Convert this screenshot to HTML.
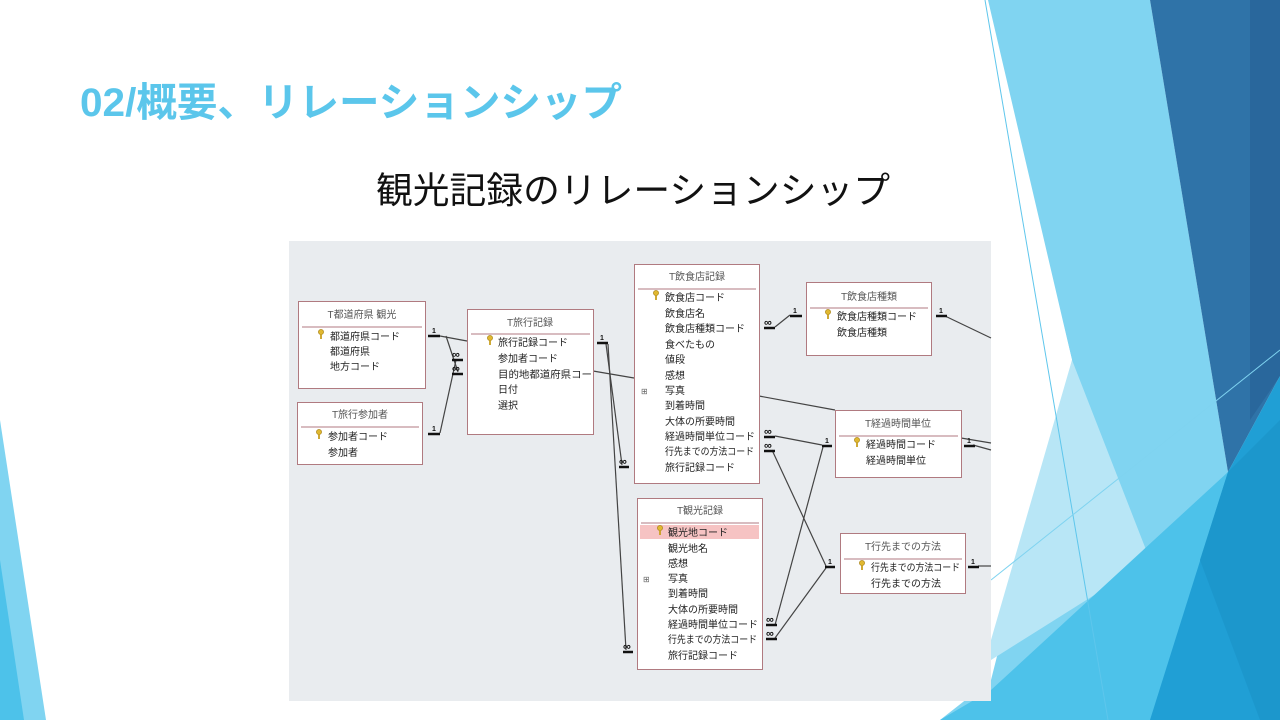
<!DOCTYPE html>
<html><head><meta charset="utf-8"><style>
html,body{margin:0;padding:0;width:1280px;height:720px;overflow:hidden;background:#fff}
svg{display:block}
.t{font-family:"Liberation Sans","Noto Sans CJK JP",sans-serif}
</style></head><body>
<svg width="1280" height="720" viewBox="0 0 1280 720" xmlns="http://www.w3.org/2000/svg" class="t">
<defs>
<g id="k"><circle cx="0" cy="0" r="2.6" fill="#e0b830" stroke="#a07a10" stroke-width="0.6"/><rect x="-0.9" y="2" width="1.8" height="5" fill="#c9a020"/></g>
</defs>
<!-- background shapes -->
<polygon points="988,0 1150,0 1228,472 1280,376 1280,720 940,720 991,680 1072,360" fill="#80d4f1"/>
<polygon points="985,0 1072,360 991,640 991,200" fill="#ffffff"/>
<polygon points="1072,360 1150,560 991,660 991,640" fill="#b8e6f6"/>
<polygon points="991,690 1228,472 1280,440 1280,720 940,720" fill="#4dc2ea"/>
<polygon points="1150,0 1280,0 1280,376 1228,472" fill="#2f73a8"/>
<polygon points="1250,0 1280,0 1280,376 1250,420" fill="#29679c"/>
<polygon points="1280,376 1280,720 1150,720 1228,472" fill="#209fd5"/>
<polygon points="1200,560 1228,472 1280,420 1280,720 1260,720" fill="#1c97cc"/>
<line x1="985" y1="0" x2="1108" y2="720" stroke="#5ec6ec" stroke-width="1"/>
<line x1="991" y1="580" x2="1280" y2="350" stroke="#7fd3f0" stroke-width="1"/>
<polygon points="0,420 46,720 0,720" fill="#80d4f1"/>
<polygon points="0,560 24,720 0,720" fill="#4dc2ea"/>

<!-- titles -->
<text x="80" y="116" font-size="40" font-weight="bold" fill="#5bc6eb" textLength="542" lengthAdjust="spacingAndGlyphs">02/概要、リレーションシップ</text>
<text x="376" y="203" font-size="36.5" fill="#111" textLength="514" lengthAdjust="spacingAndGlyphs">観光記録のリレーションシップ</text>

<!-- diagram area -->
<rect x="289" y="241" width="702" height="460" fill="#e9ecef"/>

<g stroke="#444" stroke-width="1.2" fill="none">
<line x1="440" y1="336" x2="467" y2="341"/>
<line x1="446" y1="336" x2="458" y2="372"/>
<line x1="440" y1="433" x2="456" y2="360"/>
<line x1="593" y1="371" x2="634" y2="378"/>
<line x1="606" y1="344" x2="622" y2="465"/>
<line x1="608" y1="344" x2="626" y2="650"/>
<line x1="775" y1="327" x2="790" y2="315"/>
<line x1="945" y1="316" x2="991" y2="338"/>
<line x1="759" y1="396" x2="835" y2="410"/>
<line x1="775" y1="436" x2="822" y2="445"/>
<line x1="772" y1="450" x2="826" y2="566"/>
<line x1="775" y1="625" x2="823" y2="447"/>
<line x1="775" y1="638" x2="826" y2="568"/>
<line x1="961" y1="438" x2="991" y2="443"/>
<line x1="973" y1="445" x2="991" y2="450"/>
<line x1="978" y1="566" x2="991" y2="566"/>
</g>
<g stroke="#111" stroke-width="2.5">
<line x1="428" y1="336" x2="440" y2="336"/>
<line x1="428" y1="434" x2="440" y2="434"/>
<line x1="452" y1="360" x2="463" y2="360"/>
<line x1="452" y1="374" x2="463" y2="374"/>
<line x1="597" y1="343" x2="608" y2="343"/>
<line x1="619" y1="467" x2="629" y2="467"/>
<line x1="623" y1="652" x2="633" y2="652"/>
<line x1="764" y1="328" x2="775" y2="328"/>
<line x1="790" y1="316" x2="802" y2="316"/>
<line x1="936" y1="316" x2="947" y2="316"/>
<line x1="764" y1="437" x2="775" y2="437"/>
<line x1="764" y1="451" x2="775" y2="451"/>
<line x1="822" y1="446" x2="832" y2="446"/>
<line x1="825" y1="567" x2="835" y2="567"/>
<line x1="766" y1="625" x2="777" y2="625"/>
<line x1="766" y1="639" x2="777" y2="639"/>
<line x1="964" y1="446" x2="975" y2="446"/>
<line x1="968" y1="567" x2="979" y2="567"/>
</g>
<g font-size="7" font-weight="bold" fill="#111">
<text x="432" y="333">1</text><text x="432" y="431">1</text>
<text x="600" y="340">1</text>
<text x="793" y="313">1</text><text x="939" y="313">1</text>
<text x="825" y="443">1</text>
<text x="828" y="564">1</text>
<text x="967" y="443">1</text><text x="971" y="564">1</text>
</g>
<g font-size="11" font-weight="bold" fill="#111">
<text x="452" y="358">∞</text><text x="452" y="372">∞</text>
<text x="619" y="465">∞</text><text x="623" y="650">∞</text>
<text x="764" y="326">∞</text>
<text x="764" y="435">∞</text><text x="764" y="449">∞</text>
<text x="766" y="623">∞</text><text x="766" y="637">∞</text>
</g>

<!-- tables -->
<g font-size="10" fill="#222">
<rect x="298.5" y="301.5" width="127" height="87" fill="#fff" stroke="#b07a80"/>
<line x1="302" y1="327" x2="422" y2="327" stroke="#b07a80"/>
<text x="362" y="318" text-anchor="middle" fill="#555">T都道府県 観光</text>
<use href="#k" x="321" y="332"/>
<text x="330" y="340">都道府県コード</text><text x="330" y="355">都道府県</text><text x="330" y="370">地方コード</text>

<rect x="297.5" y="402.5" width="125" height="62" fill="#fff" stroke="#b07a80"/>
<line x1="301" y1="427" x2="419" y2="427" stroke="#b07a80"/>
<text x="360" y="418" text-anchor="middle" fill="#555">T旅行参加者</text>
<use href="#k" x="319" y="432"/>
<text x="328" y="440">参加者コード</text><text x="328" y="456">参加者</text>

<rect x="467.5" y="309.5" width="126" height="125" fill="#fff" stroke="#b07a80"/>
<line x1="471" y1="334" x2="590" y2="334" stroke="#b07a80"/>
<text x="530" y="326" text-anchor="middle" fill="#555">T旅行記録</text>
<use href="#k" x="490" y="338"/>
<text x="498" y="346">旅行記録コード</text><text x="498" y="362">参加者コード</text><text x="498" y="378" textLength="94" lengthAdjust="spacingAndGlyphs">目的地都道府県コー</text><text x="498" y="393">日付</text><text x="498" y="409">選択</text>

<rect x="634.5" y="264.5" width="125" height="219" fill="#fff" stroke="#b07a80"/>
<line x1="638" y1="289" x2="756" y2="289" stroke="#b07a80"/>
<text x="697" y="280" text-anchor="middle" fill="#555">T飲食店記録</text>
<use href="#k" x="656" y="293"/>
<text x="641" y="394" font-size="8" fill="#666">⊞</text>
<text x="665" y="301">飲食店コード</text><text x="665" y="317">飲食店名</text><text x="665" y="332">飲食店種類コード</text><text x="665" y="348">食べたもの</text><text x="665" y="363">値段</text><text x="665" y="379">感想</text><text x="665" y="394">写真</text><text x="665" y="409">到着時間</text><text x="665" y="425">大体の所要時間</text><text x="665" y="440">経過時間単位コード</text><text x="665" y="455" textLength="89" lengthAdjust="spacingAndGlyphs">行先までの方法コード</text><text x="665" y="471">旅行記録コード</text>

<rect x="806.5" y="282.5" width="125" height="73" fill="#fff" stroke="#b07a80"/>
<line x1="810" y1="308" x2="928" y2="308" stroke="#b07a80"/>
<text x="869" y="300" text-anchor="middle" fill="#555">T飲食店種類</text>
<use href="#k" x="828" y="312"/>
<text x="837" y="320">飲食店種類コード</text><text x="837" y="336">飲食店種類</text>

<rect x="835.5" y="410.5" width="126" height="67" fill="#fff" stroke="#b07a80"/>
<line x1="839" y1="436" x2="958" y2="436" stroke="#b07a80"/>
<text x="898" y="427" text-anchor="middle" fill="#555">T経過時間単位</text>
<use href="#k" x="857" y="440"/>
<text x="866" y="448">経過時間コード</text><text x="866" y="464">経過時間単位</text>

<rect x="637.5" y="498.5" width="125" height="171" fill="#fff" stroke="#b07a80"/>
<line x1="641" y1="523" x2="759" y2="523" stroke="#b07a80"/>
<rect x="640" y="525" width="119" height="14" fill="#f6c3c3"/>
<text x="700" y="514" text-anchor="middle" fill="#555">T観光記録</text>
<use href="#k" x="660" y="528"/>
<text x="643" y="582" font-size="8" fill="#666">⊞</text>
<text x="668" y="536">観光地コード</text><text x="668" y="552">観光地名</text><text x="668" y="567">感想</text><text x="668" y="582">写真</text><text x="668" y="597">到着時間</text><text x="668" y="613">大体の所要時間</text><text x="668" y="628">経過時間単位コード</text><text x="668" y="643" textLength="89" lengthAdjust="spacingAndGlyphs">行先までの方法コード</text><text x="668" y="659">旅行記録コード</text>

<rect x="840.5" y="533.5" width="125" height="60" fill="#fff" stroke="#b07a80"/>
<line x1="844" y1="559" x2="962" y2="559" stroke="#b07a80"/>
<text x="903" y="550" text-anchor="middle" fill="#555">T行先までの方法</text>
<use href="#k" x="862" y="563"/>
<text x="871" y="571" textLength="89" lengthAdjust="spacingAndGlyphs">行先までの方法コード</text><text x="871" y="587">行先までの方法</text>
</g>
</svg>
</body></html>
